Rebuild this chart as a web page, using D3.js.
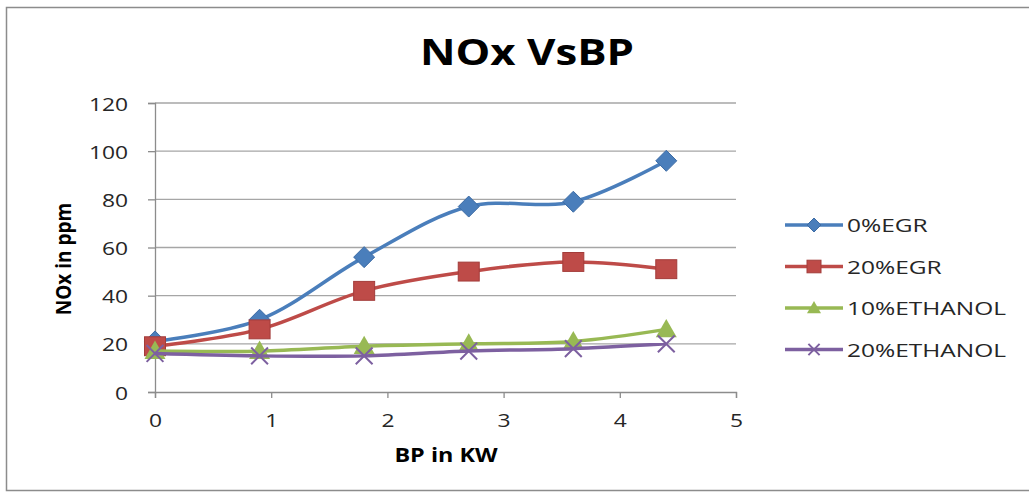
<!DOCTYPE html>
<html>
<head>
<meta charset="utf-8">
<script src="https://cdn.jsdelivr.net/npm/d3@7"></script>
<style>
  body { margin: 0; background: #fff; }
  text { font-family: "Open Sans", sans-serif; }
</style>
</head>
<body>
<div id="chart"></div>
<script>
// valores
const bp = [0, 0.9, 1.8, 2.7, 3.6, 4.4];
const egr0 = [21, 30, 56, 77, 79, 96];
const egr20 = [19, 26, 42, 50, 54, 51];
const eth10 = [17, 17, 19, 20, 21, 26];
const eth20 = [16, 15, 15, 17, 18, 20];
const seriesNames = ["0%EGR", "20%EGR", "10%ETHANOL", "20%ETHANOL"];
const yTicks = [0, 20, 40, 60, 80, 100, 120];
const xTicks = [0, 1, 2, 3, 4, 5];

const series = [
  { name: seriesNames[0], values: egr0, color: "#4a7ebb", shape: "diamond" },
  { name: seriesNames[1], values: egr20, color: "#be4b48", shape: "square" },
  { name: seriesNames[2], values: eth10, color: "#98b954", shape: "triangle" },
  { name: seriesNames[3], values: eth20, color: "#7d60a0", shape: "cross" }
];

const W = 1029, H = 495;
const svg = d3.select("#chart").append("svg")
  .attr("width", W).attr("height", H);

// o original está esticado na horizontal
function stretch(sel, sx) {
  sel.each(function () {
    const t = d3.select(this);
    const tx = +t.attr("x") || 0, ty = +t.attr("y") || 0;
    t.attr("x", 0).attr("y", 0)
      .attr("transform", `translate(${tx},${ty}) scale(${sx},1)`);
  });
}

// moldura
svg.append("rect")
  .attr("x", 6.5).attr("y", 7.5)
  .attr("width", W + 10).attr("height", H - 12)
  .attr("fill", "none").attr("stroke", "#8c8c8c").attr("stroke-width", 1.5);

const x = d3.scaleLinear().domain([0, 5]).range([155, 736]);
const y = d3.scaleLinear().domain([0, 120]).range([392, 103]);

// grade
svg.append("g")
  .selectAll("line")
  .data(yTicks.filter(d => d > 0))
  .join("line")
  .attr("x1", x(0)).attr("x2", x(5))
  .attr("y1", d => y(d)).attr("y2", d => y(d))
  .attr("stroke", "#a6a6a6").attr("stroke-width", 1.3);

const xAxis = svg.append("g")
  .attr("transform", `translate(0,${y(0)})`)
  .call(d3.axisBottom(x).tickValues(xTicks).tickSize(6).tickFormat(d3.format("d")));
const yAxis = svg.append("g")
  .attr("transform", `translate(${x(0)},0)`)
  .call(d3.axisLeft(y).tickValues(yTicks).tickSize(7));

[xAxis, yAxis].forEach(g => {
  g.select(".domain").attr("stroke", "#8c8c8c").attr("stroke-width", 1.3);
  g.selectAll(".tick line").attr("stroke", "#8c8c8c").attr("stroke-width", 1.3);
  g.selectAll(".tick text")
    .attr("fill", "#262626")
    .attr("dy", null)
    .style("font-size", "19px")
    .style("font-family", "Open Sans, sans-serif");
});
xAxis.selectAll(".tick text").attr("x", 0).attr("y", 35).attr("text-anchor", "middle");
yAxis.selectAll(".tick text").attr("x", -27).attr("y", 7).attr("text-anchor", "end");
stretch(xAxis.selectAll(".tick text"), 1.2);
stretch(yAxis.selectAll(".tick text"), 1.2);

// títulos
svg.append("text")
  .attr("x", 527).attr("y", 65)
  .attr("text-anchor", "middle")
  .style("font-size", "35px").style("font-weight", "bold")
  .text("NOx VsBP")
  .call(stretch, 1.25);

svg.append("text")
  .attr("x", 446).attr("y", 462)
  .attr("text-anchor", "middle")
  .style("font-size", "20px").style("font-weight", "bold")
  .text("BP in KW")
  .call(stretch, 1.17);

svg.append("text")
  .attr("transform", "translate(71,259) rotate(-90) scale(1,1.15)")
  .attr("text-anchor", "middle")
  .style("font-size", "19px").style("font-weight", "bold")
  .text("NOx in ppm");

const line = d3.line()
  .x((d, i) => x(bp[i]))
  .y(d => y(d))
  .curve(d3.curveCatmullRom.alpha(0.5));

function marker(g, shape, color, r) {
  if (shape === "diamond") {
    g.append("path").attr("d", `M0,${-r}L${r},0L0,${r}L${-r},0Z`)
      .attr("fill", color).attr("stroke", "#3d6ca5").attr("stroke-width", 1);
  } else if (shape === "square") {
    g.append("rect").attr("x", -r).attr("y", -r * 0.9)
      .attr("width", r * 2).attr("height", r * 1.8)
      .attr("fill", color).attr("stroke", "#a33c3a").attr("stroke-width", 1);
  } else if (shape === "triangle") {
    g.append("path").attr("d", `M0,${-r}L${r},${r * 0.75}L${-r},${r * 0.75}Z`)
      .attr("fill", color);
  } else {
    const k = r * 0.8;
    g.append("path").attr("d", `M${-k},${-k}L${k},${k}M${-k},${k}L${k},${-k}`)
      .attr("stroke", color).attr("stroke-width", 2).attr("fill", "none");
  }
}

series.forEach(s => {
  svg.append("path")
    .datum(s.values)
    .attr("d", line)
    .attr("fill", "none")
    .attr("stroke", s.color)
    .attr("stroke-width", 3.5);
  s.values.forEach((v, i) => {
    const g = svg.append("g").attr("transform", `translate(${x(bp[i])},${y(v)})`);
    marker(g, s.shape, s.color, 10.5);
  });
});

// legenda
const legend = svg.append("g");
series.forEach((s, i) => {
  const ly = 225 + i * 41.5;
  legend.append("line")
    .attr("x1", 785).attr("x2", 843)
    .attr("y1", ly).attr("y2", ly)
    .attr("stroke", s.color).attr("stroke-width", 3.5);
  const g = legend.append("g").attr("transform", `translate(814,${ly})`);
  marker(g, s.shape, s.color, 7);
  legend.append("text")
    .attr("x", 847).attr("y", ly + 7)
    .attr("fill", "#262626")
    .style("font-size", "18px")
    .text(s.name)
    .call(stretch, 1.36);
});
</script>
</body>
</html>
